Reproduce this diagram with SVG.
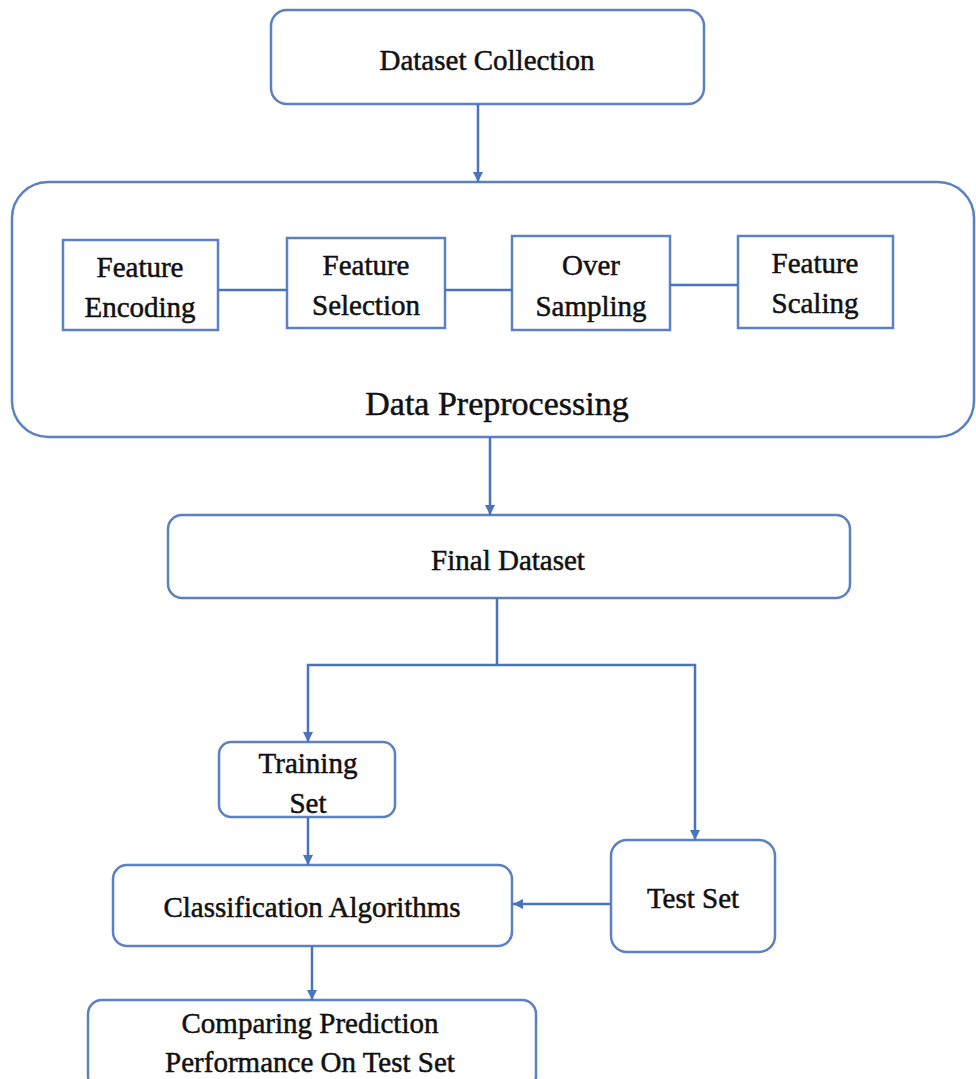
<svg xmlns="http://www.w3.org/2000/svg" width="976" height="1079" viewBox="0 0 976 1079">
<defs>
<marker id="arr" viewBox="0 0 10 10" refX="10" refY="5" markerWidth="4" markerHeight="4" orient="auto" markerUnits="strokeWidth">
<path d="M0,0 L10,5 L0,10 z" fill="#4a72bd"/>
</marker>
</defs>
<style>
.box{fill:#ffffff;stroke:#5b80c4;stroke-width:2.5}
.ln{fill:none;stroke:#4a72bd;stroke-width:2.5}
.t{font-family:"Liberation Serif","Times New Roman",serif;font-size:29px;fill:#111;stroke:#111;stroke-width:0.5;text-anchor:middle}
.big{font-size:34px}
</style>
<rect width="976" height="1079" fill="#ffffff"/>
<g id="dataset-collection">
<rect class="box" x="271" y="10" width="433" height="94" rx="16"/>
<text class="t" x="487" y="70">Dataset Collection</text>
</g>
<g id="data-preprocessing">
<rect class="box" x="12" y="182" width="962" height="255" rx="36"/>
<text class="t big" x="497" y="415">Data Preprocessing</text>
</g>
<g id="feature-encoding">
<rect class="box" x="63" y="240" width="155" height="90"/>
<text class="t" x="140" y="277">Feature</text>
<text class="t" x="140" y="317">Encoding</text>
</g>
<g id="feature-selection">
<rect class="box" x="287" y="238" width="158" height="90"/>
<text class="t" x="366" y="275">Feature</text>
<text class="t" x="366" y="315">Selection</text>
</g>
<g id="over-sampling">
<rect class="box" x="512" y="236" width="158" height="94"/>
<text class="t" x="591" y="275">Over</text>
<text class="t" x="591" y="316">Sampling</text>
</g>
<g id="feature-scaling">
<rect class="box" x="738" y="236" width="155" height="92"/>
<text class="t" x="815" y="273">Feature</text>
<text class="t" x="815" y="313">Scaling</text>
</g>
<g id="final-dataset">
<rect class="box" x="168" y="515" width="682" height="83" rx="14"/>
<text class="t" x="508" y="570">Final Dataset</text>
</g>
<g id="training-set">
<rect class="box" x="219" y="742" width="176" height="75" rx="12"/>
<text class="t" x="308" y="773">Training</text>
<text class="t" x="308" y="813">Set</text>
</g>
<g id="test-set">
<rect class="box" x="611" y="840" width="164" height="112" rx="16"/>
<text class="t" x="693" y="908">Test Set</text>
</g>
<g id="classification">
<rect class="box" x="113" y="865" width="399" height="81" rx="14"/>
<text class="t" x="312" y="917">Classification Algorithms</text>
</g>
<g id="comparing">
<rect class="box" x="88" y="1000" width="448" height="90" rx="14"/>
<text class="t" x="310" y="1033">Comparing Prediction</text>
<text class="t" x="310" y="1072">Performance On Test Set</text>
</g>
<g id="connectors">
<line class="ln" x1="478" y1="104" x2="478" y2="182" marker-end="url(#arr)"/>
<line class="ln" x1="218" y1="290" x2="287" y2="290"/>
<line class="ln" x1="445" y1="290" x2="512" y2="290"/>
<line class="ln" x1="670" y1="285" x2="738" y2="285"/>
<line class="ln" x1="490" y1="437" x2="490" y2="515" marker-end="url(#arr)"/>
<polyline class="ln" points="497,598 497,665 308,665 308,742" marker-end="url(#arr)"/>
<polyline class="ln" points="497,665 695,665 695,840" marker-end="url(#arr)"/>
<line class="ln" x1="308" y1="817" x2="308" y2="865" marker-end="url(#arr)"/>
<line class="ln" x1="611" y1="904" x2="513" y2="904" marker-end="url(#arr)"/>
<line class="ln" x1="312" y1="946" x2="312" y2="1000" marker-end="url(#arr)"/>
</g>
</svg>
